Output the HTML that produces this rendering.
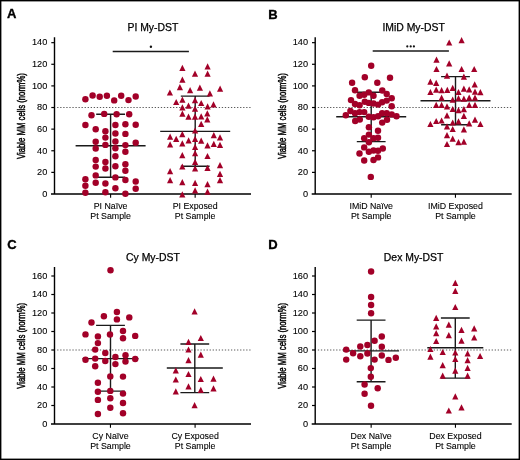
<!DOCTYPE html><html><head><meta charset="utf-8"><style>html,body{margin:0;padding:0;background:#fff;}svg{display:block;will-change:transform;} text{font-family:"Liberation Sans",sans-serif;}</style></head><body>
<svg width="520" height="460" viewBox="0 0 520 460">
<rect x="0" y="0" width="520" height="460" fill="#fff"/>
<text x="7.0" y="18.2" font-size="13" font-weight="bold" fill="#000" stroke="#000" stroke-width="0.35">A</text>
<text x="152.9" y="31.2" font-size="10.4" text-anchor="middle" fill="#000" stroke="#000" stroke-width="0.25">PI My-DST</text>
<line x1="57.15" x2="250.60" y1="107.52" y2="107.52" stroke="#5a5a5a" stroke-width="1.1" stroke-dasharray="1.3 1.749"/>
<path d="M54.50 37.30V194.00M51.00 194.00H251.00" stroke="#000" stroke-width="1.4" fill="none"/>
<text x="47.3" y="196.80" font-size="9.2" text-anchor="end" fill="#000" stroke="#000" stroke-width="0.1">0</text>
<line x1="51.30" x2="54.50" y1="172.38" y2="172.38" stroke="#000" stroke-width="1.2"/>
<text x="47.3" y="175.18" font-size="9.2" text-anchor="end" fill="#000" stroke="#000" stroke-width="0.1">20</text>
<line x1="51.30" x2="54.50" y1="150.76" y2="150.76" stroke="#000" stroke-width="1.2"/>
<text x="47.3" y="153.56" font-size="9.2" text-anchor="end" fill="#000" stroke="#000" stroke-width="0.1">40</text>
<line x1="51.30" x2="54.50" y1="129.14" y2="129.14" stroke="#000" stroke-width="1.2"/>
<text x="47.3" y="131.94" font-size="9.2" text-anchor="end" fill="#000" stroke="#000" stroke-width="0.1">60</text>
<line x1="51.30" x2="54.50" y1="107.52" y2="107.52" stroke="#000" stroke-width="1.2"/>
<text x="47.3" y="110.32" font-size="9.2" text-anchor="end" fill="#000" stroke="#000" stroke-width="0.1">80</text>
<line x1="51.30" x2="54.50" y1="85.90" y2="85.90" stroke="#000" stroke-width="1.2"/>
<text x="47.3" y="88.70" font-size="9.2" text-anchor="end" fill="#000" stroke="#000" stroke-width="0.1">100</text>
<line x1="51.30" x2="54.50" y1="64.28" y2="64.28" stroke="#000" stroke-width="1.2"/>
<text x="47.3" y="67.08" font-size="9.2" text-anchor="end" fill="#000" stroke="#000" stroke-width="0.1">120</text>
<line x1="51.30" x2="54.50" y1="42.66" y2="42.66" stroke="#000" stroke-width="1.2"/>
<text x="47.3" y="45.46" font-size="9.2" text-anchor="end" fill="#000" stroke="#000" stroke-width="0.1">140</text>
<line x1="110.60" x2="110.60" y1="194.00" y2="197.70" stroke="#000" stroke-width="1.1"/>
<line x1="195.15" x2="195.15" y1="194.00" y2="197.70" stroke="#000" stroke-width="1.1"/>
<text x="110.60" y="209.0" font-size="8.8" text-anchor="middle" fill="#000" stroke="#000" stroke-width="0.1">PI Naïve</text>
<text x="110.60" y="218.8" font-size="8.8" text-anchor="middle" fill="#000" stroke="#000" stroke-width="0.1">Pt Sample</text>
<text x="195.15" y="209.0" font-size="8.8" text-anchor="middle" fill="#000" stroke="#000" stroke-width="0.1">PI Exposed</text>
<text x="195.15" y="218.8" font-size="8.8" text-anchor="middle" fill="#000" stroke="#000" stroke-width="0.1">Pt Sample</text>
<text transform="translate(25.20,116.05) rotate(-90) scale(0.775,1)" x="0" y="0" font-size="10" text-anchor="middle" fill="#000" stroke="#000" stroke-width="0.45">Viable MM cells (norm%)</text>
<path d="M110.60 114.30V177.20M96.20 114.30H125.00M96.20 177.20H125.00M75.60 145.80H145.60" stroke="#1a1a1a" stroke-width="1.4" fill="none"/>
<path d="M195.20 96.10V166.20M180.80 96.10H209.60M180.80 166.20H209.60M160.20 131.40H230.20" stroke="#1a1a1a" stroke-width="1.4" fill="none"/>
<circle cx="85.4" cy="99.3" r="3.22" fill="#a20028"/>
<circle cx="92.6" cy="95.5" r="3.22" fill="#a20028"/>
<circle cx="99.7" cy="96.7" r="3.22" fill="#a20028"/>
<circle cx="106.9" cy="95.8" r="3.22" fill="#a20028"/>
<circle cx="114.2" cy="100.4" r="3.22" fill="#a20028"/>
<circle cx="121.2" cy="95.8" r="3.22" fill="#a20028"/>
<circle cx="128.5" cy="100.1" r="3.22" fill="#a20028"/>
<circle cx="135.7" cy="96.5" r="3.22" fill="#a20028"/>
<circle cx="91.5" cy="115.3" r="3.22" fill="#a20028"/>
<circle cx="104.2" cy="113.9" r="3.22" fill="#a20028"/>
<circle cx="116.6" cy="114.2" r="3.22" fill="#a20028"/>
<circle cx="129.2" cy="114.2" r="3.22" fill="#a20028"/>
<circle cx="85.4" cy="125.0" r="3.22" fill="#a20028"/>
<circle cx="115.4" cy="125.0" r="3.22" fill="#a20028"/>
<circle cx="125.4" cy="124.2" r="3.22" fill="#a20028"/>
<circle cx="135.7" cy="124.7" r="3.22" fill="#a20028"/>
<circle cx="95.7" cy="129.3" r="3.22" fill="#a20028"/>
<circle cx="105.4" cy="131.2" r="3.22" fill="#a20028"/>
<circle cx="115.4" cy="133.5" r="3.22" fill="#a20028"/>
<circle cx="125.4" cy="133.9" r="3.22" fill="#a20028"/>
<circle cx="105.4" cy="137.6" r="3.22" fill="#a20028"/>
<circle cx="95.7" cy="141.8" r="3.22" fill="#a20028"/>
<circle cx="115.4" cy="141.5" r="3.22" fill="#a20028"/>
<circle cx="135.7" cy="142.8" r="3.22" fill="#a20028"/>
<circle cx="105.4" cy="144.9" r="3.22" fill="#a20028"/>
<circle cx="125.4" cy="145.1" r="3.22" fill="#a20028"/>
<circle cx="95.7" cy="148.5" r="3.22" fill="#a20028"/>
<circle cx="115.4" cy="148.2" r="3.22" fill="#a20028"/>
<circle cx="125.4" cy="151.8" r="3.22" fill="#a20028"/>
<circle cx="115.4" cy="156.2" r="3.22" fill="#a20028"/>
<circle cx="95.7" cy="160.0" r="3.22" fill="#a20028"/>
<circle cx="105.4" cy="162.0" r="3.22" fill="#a20028"/>
<circle cx="125.4" cy="164.2" r="3.22" fill="#a20028"/>
<circle cx="95.7" cy="166.6" r="3.22" fill="#a20028"/>
<circle cx="105.4" cy="168.5" r="3.22" fill="#a20028"/>
<circle cx="115.4" cy="166.2" r="3.22" fill="#a20028"/>
<circle cx="125.4" cy="170.8" r="3.22" fill="#a20028"/>
<circle cx="95.7" cy="175.4" r="3.22" fill="#a20028"/>
<circle cx="115.4" cy="177.4" r="3.22" fill="#a20028"/>
<circle cx="85.4" cy="179.2" r="3.22" fill="#a20028"/>
<circle cx="125.4" cy="180.0" r="3.22" fill="#a20028"/>
<circle cx="135.7" cy="181.5" r="3.22" fill="#a20028"/>
<circle cx="95.7" cy="182.8" r="3.22" fill="#a20028"/>
<circle cx="105.4" cy="183.5" r="3.22" fill="#a20028"/>
<circle cx="85.4" cy="185.8" r="3.22" fill="#a20028"/>
<circle cx="115.4" cy="188.2" r="3.22" fill="#a20028"/>
<circle cx="135.7" cy="188.8" r="3.22" fill="#a20028"/>
<circle cx="85.4" cy="192.8" r="3.22" fill="#a20028"/>
<circle cx="105.4" cy="192.3" r="3.22" fill="#a20028"/>
<circle cx="125.4" cy="193.8" r="3.22" fill="#a20028"/>
<path d="M182.4 64.8L185.5 71.0H179.3Z" fill="#a20028"/>
<path d="M207.6 63.2L210.7 69.4H204.5Z" fill="#a20028"/>
<path d="M195.0 70.5L198.1 76.7H191.9Z" fill="#a20028"/>
<path d="M207.6 70.5L210.7 76.7H204.5Z" fill="#a20028"/>
<path d="M182.4 76.6L185.5 82.8H179.3Z" fill="#a20028"/>
<path d="M179.9 84.0L183.0 90.2H176.8Z" fill="#a20028"/>
<path d="M190.1 87.1L193.2 93.3H187.0Z" fill="#a20028"/>
<path d="M199.9 84.5L203.0 90.7H196.8Z" fill="#a20028"/>
<path d="M220.1 85.5L223.2 91.7H217.0Z" fill="#a20028"/>
<path d="M169.9 89.4L173.0 95.6H166.8Z" fill="#a20028"/>
<path d="M209.9 90.2L213.0 96.4H206.8Z" fill="#a20028"/>
<path d="M182.4 96.6L185.5 102.8H179.3Z" fill="#a20028"/>
<path d="M176.2 98.9L179.3 105.1H173.1Z" fill="#a20028"/>
<path d="M195.0 97.1L198.1 103.3H191.9Z" fill="#a20028"/>
<path d="M201.2 99.9L204.3 106.1H198.1Z" fill="#a20028"/>
<path d="M188.5 102.5L191.6 108.7H185.4Z" fill="#a20028"/>
<path d="M182.4 104.3L185.5 110.5H179.3Z" fill="#a20028"/>
<path d="M213.5 101.2L216.6 107.4H210.4Z" fill="#a20028"/>
<path d="M207.6 103.2L210.7 109.4H204.5Z" fill="#a20028"/>
<path d="M195.0 105.5L198.1 111.7H191.9Z" fill="#a20028"/>
<path d="M182.4 110.6L185.5 116.8H179.3Z" fill="#a20028"/>
<path d="M207.3 110.2L210.4 116.4H204.2Z" fill="#a20028"/>
<path d="M188.5 113.5L191.6 119.7H185.4Z" fill="#a20028"/>
<path d="M195.0 113.5L198.1 119.7H191.9Z" fill="#a20028"/>
<path d="M201.2 113.2L204.3 119.4H198.1Z" fill="#a20028"/>
<path d="M207.3 116.3L210.4 122.5H204.2Z" fill="#a20028"/>
<path d="M201.2 120.7L204.3 126.9H198.1Z" fill="#a20028"/>
<path d="M195.1 127.4L198.2 133.6H192.0Z" fill="#a20028"/>
<path d="M170.1 133.5L173.2 139.7H167.0Z" fill="#a20028"/>
<path d="M182.3 131.1L185.4 137.3H179.2Z" fill="#a20028"/>
<path d="M176.2 135.7L179.3 141.9H173.1Z" fill="#a20028"/>
<path d="M188.6 137.2L191.7 143.4H185.5Z" fill="#a20028"/>
<path d="M195.1 135.7L198.2 141.9H192.0Z" fill="#a20028"/>
<path d="M201.2 137.6L204.3 143.8H198.1Z" fill="#a20028"/>
<path d="M213.8 132.0L216.9 138.2H210.7Z" fill="#a20028"/>
<path d="M220.0 134.2L223.1 140.4H216.9Z" fill="#a20028"/>
<path d="M170.1 141.3L173.2 147.5H167.0Z" fill="#a20028"/>
<path d="M182.3 140.3L185.4 146.5H179.2Z" fill="#a20028"/>
<path d="M195.1 143.7L198.2 149.9H192.0Z" fill="#a20028"/>
<path d="M207.5 142.2L210.6 148.4H204.4Z" fill="#a20028"/>
<path d="M213.8 140.7L216.9 146.9H210.7Z" fill="#a20028"/>
<path d="M220.0 141.8L223.1 148.0H216.9Z" fill="#a20028"/>
<path d="M182.3 152.0L185.4 158.2H179.2Z" fill="#a20028"/>
<path d="M195.1 150.1L198.2 156.3H192.0Z" fill="#a20028"/>
<path d="M207.5 152.9L210.6 159.1H204.4Z" fill="#a20028"/>
<path d="M195.1 158.8L198.2 165.0H192.0Z" fill="#a20028"/>
<path d="M182.3 163.4L185.4 169.6H179.2Z" fill="#a20028"/>
<path d="M195.1 165.3L198.2 171.5H192.0Z" fill="#a20028"/>
<path d="M207.5 164.7L210.6 170.9H204.4Z" fill="#a20028"/>
<path d="M220.0 162.0L223.1 168.2H216.9Z" fill="#a20028"/>
<path d="M170.1 168.1L173.2 174.3H167.0Z" fill="#a20028"/>
<path d="M220.0 170.8L223.1 177.0H216.9Z" fill="#a20028"/>
<path d="M170.1 177.0L173.2 183.2H167.0Z" fill="#a20028"/>
<path d="M182.3 179.1L185.4 185.3H179.2Z" fill="#a20028"/>
<path d="M195.1 179.7L198.2 185.9H192.0Z" fill="#a20028"/>
<path d="M207.5 181.0L210.6 187.2H204.4Z" fill="#a20028"/>
<path d="M220.0 177.0L223.1 183.2H216.9Z" fill="#a20028"/>
<path d="M195.1 187.3L198.2 193.5H192.0Z" fill="#a20028"/>
<path d="M207.5 188.5L210.6 194.7H204.4Z" fill="#a20028"/>
<path d="M182.3 191.2L185.4 197.4H179.2Z" fill="#a20028"/>
<text x="268.3" y="19.2" font-size="13" font-weight="bold" fill="#000" stroke="#000" stroke-width="0.35">B</text>
<text x="413.6" y="31.2" font-size="10.4" text-anchor="middle" fill="#000" stroke="#000" stroke-width="0.25">IMiD My-DST</text>
<line x1="317.85" x2="511.30" y1="107.52" y2="107.52" stroke="#5a5a5a" stroke-width="1.1" stroke-dasharray="1.3 1.749"/>
<path d="M315.20 37.30V194.00M311.70 194.00H511.70" stroke="#000" stroke-width="1.4" fill="none"/>
<text x="308.0" y="196.80" font-size="9.2" text-anchor="end" fill="#000" stroke="#000" stroke-width="0.1">0</text>
<line x1="312.00" x2="315.20" y1="172.38" y2="172.38" stroke="#000" stroke-width="1.2"/>
<text x="308.0" y="175.18" font-size="9.2" text-anchor="end" fill="#000" stroke="#000" stroke-width="0.1">20</text>
<line x1="312.00" x2="315.20" y1="150.76" y2="150.76" stroke="#000" stroke-width="1.2"/>
<text x="308.0" y="153.56" font-size="9.2" text-anchor="end" fill="#000" stroke="#000" stroke-width="0.1">40</text>
<line x1="312.00" x2="315.20" y1="129.14" y2="129.14" stroke="#000" stroke-width="1.2"/>
<text x="308.0" y="131.94" font-size="9.2" text-anchor="end" fill="#000" stroke="#000" stroke-width="0.1">60</text>
<line x1="312.00" x2="315.20" y1="107.52" y2="107.52" stroke="#000" stroke-width="1.2"/>
<text x="308.0" y="110.32" font-size="9.2" text-anchor="end" fill="#000" stroke="#000" stroke-width="0.1">80</text>
<line x1="312.00" x2="315.20" y1="85.90" y2="85.90" stroke="#000" stroke-width="1.2"/>
<text x="308.0" y="88.70" font-size="9.2" text-anchor="end" fill="#000" stroke="#000" stroke-width="0.1">100</text>
<line x1="312.00" x2="315.20" y1="64.28" y2="64.28" stroke="#000" stroke-width="1.2"/>
<text x="308.0" y="67.08" font-size="9.2" text-anchor="end" fill="#000" stroke="#000" stroke-width="0.1">120</text>
<line x1="312.00" x2="315.20" y1="42.66" y2="42.66" stroke="#000" stroke-width="1.2"/>
<text x="308.0" y="45.46" font-size="9.2" text-anchor="end" fill="#000" stroke="#000" stroke-width="0.1">140</text>
<line x1="371.20" x2="371.20" y1="194.00" y2="197.70" stroke="#000" stroke-width="1.1"/>
<line x1="455.45" x2="455.45" y1="194.00" y2="197.70" stroke="#000" stroke-width="1.1"/>
<text x="371.20" y="209.0" font-size="8.8" text-anchor="middle" fill="#000" stroke="#000" stroke-width="0.1">IMiD Naïve</text>
<text x="371.20" y="218.8" font-size="8.8" text-anchor="middle" fill="#000" stroke="#000" stroke-width="0.1">Pt Sample</text>
<text x="455.45" y="209.0" font-size="8.8" text-anchor="middle" fill="#000" stroke="#000" stroke-width="0.1">IMiD Exposed</text>
<text x="455.45" y="218.8" font-size="8.8" text-anchor="middle" fill="#000" stroke="#000" stroke-width="0.1">Pt Sample</text>
<text transform="translate(285.90,116.05) rotate(-90) scale(0.775,1)" x="0" y="0" font-size="10" text-anchor="middle" fill="#000" stroke="#000" stroke-width="0.45">Viable MM cells (norm%)</text>
<path d="M371.20 92.30V141.60M356.80 92.30H385.60M356.80 141.60H385.60M336.20 116.70H406.20" stroke="#1a1a1a" stroke-width="1.4" fill="none"/>
<path d="M455.50 76.60V124.80M441.10 76.60H469.90M441.10 124.80H469.90M420.50 100.80H490.50" stroke="#1a1a1a" stroke-width="1.4" fill="none"/>
<circle cx="371.2" cy="65.8" r="3.22" fill="#a20028"/>
<circle cx="364.8" cy="77.3" r="3.22" fill="#a20028"/>
<circle cx="390.0" cy="77.7" r="3.22" fill="#a20028"/>
<circle cx="352.1" cy="82.8" r="3.22" fill="#a20028"/>
<circle cx="377.3" cy="82.8" r="3.22" fill="#a20028"/>
<circle cx="355.0" cy="90.2" r="3.22" fill="#a20028"/>
<circle cx="382.3" cy="90.5" r="3.22" fill="#a20028"/>
<circle cx="368.8" cy="92.4" r="3.22" fill="#a20028"/>
<circle cx="386.7" cy="93.9" r="3.22" fill="#a20028"/>
<circle cx="359.6" cy="95.7" r="3.22" fill="#a20028"/>
<circle cx="364.2" cy="94.7" r="3.22" fill="#a20028"/>
<circle cx="373.5" cy="95.7" r="3.22" fill="#a20028"/>
<circle cx="391.7" cy="98.3" r="3.22" fill="#a20028"/>
<circle cx="351.0" cy="100.1" r="3.22" fill="#a20028"/>
<circle cx="364.8" cy="101.7" r="3.22" fill="#a20028"/>
<circle cx="355.0" cy="104.0" r="3.22" fill="#a20028"/>
<circle cx="359.6" cy="105.2" r="3.22" fill="#a20028"/>
<circle cx="368.8" cy="102.9" r="3.22" fill="#a20028"/>
<circle cx="373.5" cy="103.5" r="3.22" fill="#a20028"/>
<circle cx="378.1" cy="104.6" r="3.22" fill="#a20028"/>
<circle cx="382.1" cy="102.3" r="3.22" fill="#a20028"/>
<circle cx="386.7" cy="100.6" r="3.22" fill="#a20028"/>
<circle cx="391.7" cy="106.3" r="3.22" fill="#a20028"/>
<circle cx="350.4" cy="111.0" r="3.22" fill="#a20028"/>
<circle cx="355.0" cy="113.3" r="3.22" fill="#a20028"/>
<circle cx="359.6" cy="112.1" r="3.22" fill="#a20028"/>
<circle cx="364.2" cy="112.1" r="3.22" fill="#a20028"/>
<circle cx="345.8" cy="115.2" r="3.22" fill="#a20028"/>
<circle cx="368.8" cy="116.7" r="3.22" fill="#a20028"/>
<circle cx="373.5" cy="117.3" r="3.22" fill="#a20028"/>
<circle cx="378.1" cy="116.2" r="3.22" fill="#a20028"/>
<circle cx="382.1" cy="113.3" r="3.22" fill="#a20028"/>
<circle cx="386.7" cy="113.3" r="3.22" fill="#a20028"/>
<circle cx="391.7" cy="114.4" r="3.22" fill="#a20028"/>
<circle cx="396.5" cy="116.2" r="3.22" fill="#a20028"/>
<circle cx="355.2" cy="121.0" r="3.22" fill="#a20028"/>
<circle cx="359.8" cy="119.5" r="3.22" fill="#a20028"/>
<circle cx="382.2" cy="122.6" r="3.22" fill="#a20028"/>
<circle cx="387.0" cy="119.8" r="3.22" fill="#a20028"/>
<circle cx="368.9" cy="127.2" r="3.22" fill="#a20028"/>
<circle cx="378.0" cy="130.8" r="3.22" fill="#a20028"/>
<circle cx="368.9" cy="134.6" r="3.22" fill="#a20028"/>
<circle cx="364.2" cy="138.2" r="3.22" fill="#a20028"/>
<circle cx="373.5" cy="138.2" r="3.22" fill="#a20028"/>
<circle cx="378.0" cy="137.7" r="3.22" fill="#a20028"/>
<circle cx="368.9" cy="142.3" r="3.22" fill="#a20028"/>
<circle cx="364.2" cy="147.4" r="3.22" fill="#a20028"/>
<circle cx="368.9" cy="151.8" r="3.22" fill="#a20028"/>
<circle cx="373.5" cy="150.5" r="3.22" fill="#a20028"/>
<circle cx="378.0" cy="150.8" r="3.22" fill="#a20028"/>
<circle cx="382.8" cy="148.5" r="3.22" fill="#a20028"/>
<circle cx="359.5" cy="153.5" r="3.22" fill="#a20028"/>
<circle cx="378.0" cy="157.4" r="3.22" fill="#a20028"/>
<circle cx="373.5" cy="160.0" r="3.22" fill="#a20028"/>
<circle cx="364.2" cy="160.5" r="3.22" fill="#a20028"/>
<circle cx="370.8" cy="176.9" r="3.22" fill="#a20028"/>
<path d="M449.2 39.4L452.3 45.6H446.1Z" fill="#a20028"/>
<path d="M461.6 37.1L464.7 43.3H458.5Z" fill="#a20028"/>
<path d="M436.5 56.6L439.6 62.8H433.4Z" fill="#a20028"/>
<path d="M449.2 60.2L452.3 66.4H446.1Z" fill="#a20028"/>
<path d="M436.5 65.9L439.6 72.1H433.4Z" fill="#a20028"/>
<path d="M461.6 65.9L464.7 72.1H458.5Z" fill="#a20028"/>
<path d="M474.2 65.9L477.3 72.1H471.1Z" fill="#a20028"/>
<path d="M447.0 72.5L450.1 78.7H443.9Z" fill="#a20028"/>
<path d="M463.9 73.5L467.0 79.7H460.8Z" fill="#a20028"/>
<path d="M430.4 78.6L433.5 84.8H427.3Z" fill="#a20028"/>
<path d="M436.2 79.7L439.3 85.9H433.1Z" fill="#a20028"/>
<path d="M474.7 81.2L477.8 87.4H471.6Z" fill="#a20028"/>
<path d="M452.7 84.8L455.8 91.0H449.6Z" fill="#a20028"/>
<path d="M430.4 88.9L433.5 95.1H427.3Z" fill="#a20028"/>
<path d="M436.2 86.6L439.3 92.8H433.1Z" fill="#a20028"/>
<path d="M441.6 87.1L444.7 93.3H438.5Z" fill="#a20028"/>
<path d="M447.3 86.8L450.4 93.0H444.2Z" fill="#a20028"/>
<path d="M458.5 88.9L461.6 95.1H455.4Z" fill="#a20028"/>
<path d="M463.9 85.5L467.0 91.7H460.8Z" fill="#a20028"/>
<path d="M469.2 86.3L472.3 92.5H466.1Z" fill="#a20028"/>
<path d="M475.0 88.6L478.1 94.8H471.9Z" fill="#a20028"/>
<path d="M480.4 89.1L483.5 95.3H477.3Z" fill="#a20028"/>
<path d="M441.6 94.5L444.7 100.7H438.5Z" fill="#a20028"/>
<path d="M452.7 96.6L455.8 102.8H449.6Z" fill="#a20028"/>
<path d="M458.5 95.1L461.6 101.3H455.4Z" fill="#a20028"/>
<path d="M463.9 95.5L467.0 101.7H460.8Z" fill="#a20028"/>
<path d="M469.2 94.5L472.3 100.7H466.1Z" fill="#a20028"/>
<path d="M475.0 94.5L478.1 100.7H471.9Z" fill="#a20028"/>
<path d="M436.2 101.7L439.3 107.9H433.1Z" fill="#a20028"/>
<path d="M441.6 101.7L444.7 107.9H438.5Z" fill="#a20028"/>
<path d="M469.2 101.7L472.3 107.9H466.1Z" fill="#a20028"/>
<path d="M475.0 101.7L478.1 107.9H471.9Z" fill="#a20028"/>
<path d="M447.0 103.2L450.1 109.4H443.9Z" fill="#a20028"/>
<path d="M452.7 105.9L455.8 112.1H449.6Z" fill="#a20028"/>
<path d="M458.5 107.1L461.6 113.3H455.4Z" fill="#a20028"/>
<path d="M463.9 106.0L467.0 112.2H460.8Z" fill="#a20028"/>
<path d="M447.0 112.2L450.1 118.4H443.9Z" fill="#a20028"/>
<path d="M463.9 112.8L467.0 119.0H460.8Z" fill="#a20028"/>
<path d="M430.4 120.9L433.5 127.1H427.3Z" fill="#a20028"/>
<path d="M436.2 117.9L439.3 124.1H433.1Z" fill="#a20028"/>
<path d="M441.6 117.4L444.7 123.6H438.5Z" fill="#a20028"/>
<path d="M452.7 119.4L455.8 125.6H449.6Z" fill="#a20028"/>
<path d="M458.5 118.2L461.6 124.4H455.4Z" fill="#a20028"/>
<path d="M469.2 120.2L472.3 126.4H466.1Z" fill="#a20028"/>
<path d="M475.0 116.6L478.1 122.8H471.9Z" fill="#a20028"/>
<path d="M480.4 120.9L483.5 127.1H477.3Z" fill="#a20028"/>
<path d="M447.0 123.2L450.1 129.4H443.9Z" fill="#a20028"/>
<path d="M452.7 125.9L455.8 132.1H449.6Z" fill="#a20028"/>
<path d="M463.9 126.3L467.0 132.5H460.8Z" fill="#a20028"/>
<path d="M447.0 132.0L450.1 138.2H443.9Z" fill="#a20028"/>
<path d="M452.7 135.5L455.8 141.7H449.6Z" fill="#a20028"/>
<path d="M458.5 139.1L461.6 145.3H455.4Z" fill="#a20028"/>
<path d="M463.9 138.6L467.0 144.8H460.8Z" fill="#a20028"/>
<path d="M447.0 140.9L450.1 147.1H443.9Z" fill="#a20028"/>
<text x="7.2" y="249.0" font-size="13" font-weight="bold" fill="#000" stroke="#000" stroke-width="0.35">C</text>
<text x="152.9" y="261.0" font-size="10.4" text-anchor="middle" fill="#000" stroke="#000" stroke-width="0.25">Cy My-DST</text>
<line x1="57.15" x2="250.60" y1="350.00" y2="350.00" stroke="#5a5a5a" stroke-width="1.1" stroke-dasharray="1.3 1.749"/>
<path d="M54.50 267.00V424.00M51.00 424.00H251.00" stroke="#000" stroke-width="1.4" fill="none"/>
<text x="47.3" y="426.80" font-size="9.2" text-anchor="end" fill="#000" stroke="#000" stroke-width="0.1">0</text>
<line x1="51.30" x2="54.50" y1="405.50" y2="405.50" stroke="#000" stroke-width="1.2"/>
<text x="47.3" y="408.30" font-size="9.2" text-anchor="end" fill="#000" stroke="#000" stroke-width="0.1">20</text>
<line x1="51.30" x2="54.50" y1="387.00" y2="387.00" stroke="#000" stroke-width="1.2"/>
<text x="47.3" y="389.80" font-size="9.2" text-anchor="end" fill="#000" stroke="#000" stroke-width="0.1">40</text>
<line x1="51.30" x2="54.50" y1="368.50" y2="368.50" stroke="#000" stroke-width="1.2"/>
<text x="47.3" y="371.30" font-size="9.2" text-anchor="end" fill="#000" stroke="#000" stroke-width="0.1">60</text>
<line x1="51.30" x2="54.50" y1="350.00" y2="350.00" stroke="#000" stroke-width="1.2"/>
<text x="47.3" y="352.80" font-size="9.2" text-anchor="end" fill="#000" stroke="#000" stroke-width="0.1">80</text>
<line x1="51.30" x2="54.50" y1="331.50" y2="331.50" stroke="#000" stroke-width="1.2"/>
<text x="47.3" y="334.30" font-size="9.2" text-anchor="end" fill="#000" stroke="#000" stroke-width="0.1">100</text>
<line x1="51.30" x2="54.50" y1="313.00" y2="313.00" stroke="#000" stroke-width="1.2"/>
<text x="47.3" y="315.80" font-size="9.2" text-anchor="end" fill="#000" stroke="#000" stroke-width="0.1">120</text>
<line x1="51.30" x2="54.50" y1="294.50" y2="294.50" stroke="#000" stroke-width="1.2"/>
<text x="47.3" y="297.30" font-size="9.2" text-anchor="end" fill="#000" stroke="#000" stroke-width="0.1">140</text>
<line x1="51.30" x2="54.50" y1="276.00" y2="276.00" stroke="#000" stroke-width="1.2"/>
<text x="47.3" y="278.80" font-size="9.2" text-anchor="end" fill="#000" stroke="#000" stroke-width="0.1">160</text>
<line x1="110.45" x2="110.45" y1="424.00" y2="427.70" stroke="#000" stroke-width="1.1"/>
<line x1="195.10" x2="195.10" y1="424.00" y2="427.70" stroke="#000" stroke-width="1.1"/>
<text x="110.45" y="438.8" font-size="8.8" text-anchor="middle" fill="#000" stroke="#000" stroke-width="0.1">Cy Naïve</text>
<text x="110.45" y="448.6" font-size="8.8" text-anchor="middle" fill="#000" stroke="#000" stroke-width="0.1">Pt Sample</text>
<text x="195.10" y="438.8" font-size="8.8" text-anchor="middle" fill="#000" stroke="#000" stroke-width="0.1">Cy Exposed</text>
<text x="195.10" y="448.6" font-size="8.8" text-anchor="middle" fill="#000" stroke="#000" stroke-width="0.1">Pt Sample</text>
<text transform="translate(25.20,345.85) rotate(-90) scale(0.775,1)" x="0" y="0" font-size="10" text-anchor="middle" fill="#000" stroke="#000" stroke-width="0.45">Viable MM cells (norm%)</text>
<path d="M110.50 325.40V391.10M96.10 325.40H124.90M96.10 391.10H124.90M82.50 358.60H138.50" stroke="#1a1a1a" stroke-width="1.4" fill="none"/>
<path d="M194.80 344.00V392.60M180.40 344.00H209.20M180.40 392.60H209.20M166.80 368.00H222.80" stroke="#1a1a1a" stroke-width="1.4" fill="none"/>
<circle cx="110.5" cy="270.2" r="3.22" fill="#a20028"/>
<circle cx="116.9" cy="312.0" r="3.22" fill="#a20028"/>
<circle cx="103.9" cy="316.3" r="3.22" fill="#a20028"/>
<circle cx="116.9" cy="319.4" r="3.22" fill="#a20028"/>
<circle cx="129.3" cy="317.4" r="3.22" fill="#a20028"/>
<circle cx="91.5" cy="322.5" r="3.22" fill="#a20028"/>
<circle cx="85.5" cy="334.4" r="3.22" fill="#a20028"/>
<circle cx="97.9" cy="336.4" r="3.22" fill="#a20028"/>
<circle cx="110.0" cy="334.5" r="3.22" fill="#a20028"/>
<circle cx="123.0" cy="331.0" r="3.22" fill="#a20028"/>
<circle cx="123.0" cy="338.2" r="3.22" fill="#a20028"/>
<circle cx="135.2" cy="335.9" r="3.22" fill="#a20028"/>
<circle cx="97.9" cy="343.1" r="3.22" fill="#a20028"/>
<circle cx="95.2" cy="349.6" r="3.22" fill="#a20028"/>
<circle cx="105.3" cy="353.0" r="3.22" fill="#a20028"/>
<circle cx="125.5" cy="355.3" r="3.22" fill="#a20028"/>
<circle cx="85.5" cy="359.7" r="3.22" fill="#a20028"/>
<circle cx="95.2" cy="358.6" r="3.22" fill="#a20028"/>
<circle cx="105.3" cy="361.0" r="3.22" fill="#a20028"/>
<circle cx="115.4" cy="357.0" r="3.22" fill="#a20028"/>
<circle cx="125.5" cy="361.5" r="3.22" fill="#a20028"/>
<circle cx="135.2" cy="359.0" r="3.22" fill="#a20028"/>
<circle cx="95.2" cy="366.2" r="3.22" fill="#a20028"/>
<circle cx="115.4" cy="364.1" r="3.22" fill="#a20028"/>
<circle cx="110.3" cy="376.4" r="3.22" fill="#a20028"/>
<circle cx="123.0" cy="376.6" r="3.22" fill="#a20028"/>
<circle cx="97.9" cy="382.8" r="3.22" fill="#a20028"/>
<circle cx="97.9" cy="391.8" r="3.22" fill="#a20028"/>
<circle cx="110.3" cy="390.9" r="3.22" fill="#a20028"/>
<circle cx="123.0" cy="393.6" r="3.22" fill="#a20028"/>
<circle cx="97.9" cy="399.9" r="3.22" fill="#a20028"/>
<circle cx="110.3" cy="398.3" r="3.22" fill="#a20028"/>
<circle cx="123.0" cy="403.0" r="3.22" fill="#a20028"/>
<circle cx="110.3" cy="407.7" r="3.22" fill="#a20028"/>
<circle cx="97.9" cy="414.0" r="3.22" fill="#a20028"/>
<circle cx="123.0" cy="413.3" r="3.22" fill="#a20028"/>
<path d="M194.6 308.2L197.7 314.4H191.5Z" fill="#a20028"/>
<path d="M200.8 334.9L203.9 341.1H197.7Z" fill="#a20028"/>
<path d="M188.5 338.7L191.6 344.9H185.4Z" fill="#a20028"/>
<path d="M188.5 346.4L191.6 352.6H185.4Z" fill="#a20028"/>
<path d="M200.8 351.6L203.9 357.8H197.7Z" fill="#a20028"/>
<path d="M188.5 357.1L191.6 363.3H185.4Z" fill="#a20028"/>
<path d="M175.8 367.2L178.9 373.4H172.7Z" fill="#a20028"/>
<path d="M188.5 370.9L191.6 377.1H185.4Z" fill="#a20028"/>
<path d="M175.8 376.4L178.9 382.6H172.7Z" fill="#a20028"/>
<path d="M200.8 375.9L203.9 382.1H197.7Z" fill="#a20028"/>
<path d="M213.5 375.5L216.6 381.7H210.4Z" fill="#a20028"/>
<path d="M188.5 383.2L191.6 389.4H185.4Z" fill="#a20028"/>
<path d="M175.8 388.2L178.9 394.4H172.7Z" fill="#a20028"/>
<path d="M200.8 386.7L203.9 392.9H197.7Z" fill="#a20028"/>
<path d="M213.5 385.2L216.6 391.4H210.4Z" fill="#a20028"/>
<path d="M194.6 402.1L197.7 408.3H191.5Z" fill="#a20028"/>
<text x="268.3" y="248.9" font-size="13" font-weight="bold" fill="#000" stroke="#000" stroke-width="0.35">D</text>
<text x="413.6" y="261.0" font-size="10.4" text-anchor="middle" fill="#000" stroke="#000" stroke-width="0.25">Dex My-DST</text>
<line x1="317.85" x2="511.30" y1="350.00" y2="350.00" stroke="#5a5a5a" stroke-width="1.1" stroke-dasharray="1.3 1.749"/>
<path d="M315.20 267.00V424.00M311.70 424.00H511.70" stroke="#000" stroke-width="1.4" fill="none"/>
<text x="308.0" y="426.80" font-size="9.2" text-anchor="end" fill="#000" stroke="#000" stroke-width="0.1">0</text>
<line x1="312.00" x2="315.20" y1="405.50" y2="405.50" stroke="#000" stroke-width="1.2"/>
<text x="308.0" y="408.30" font-size="9.2" text-anchor="end" fill="#000" stroke="#000" stroke-width="0.1">20</text>
<line x1="312.00" x2="315.20" y1="387.00" y2="387.00" stroke="#000" stroke-width="1.2"/>
<text x="308.0" y="389.80" font-size="9.2" text-anchor="end" fill="#000" stroke="#000" stroke-width="0.1">40</text>
<line x1="312.00" x2="315.20" y1="368.50" y2="368.50" stroke="#000" stroke-width="1.2"/>
<text x="308.0" y="371.30" font-size="9.2" text-anchor="end" fill="#000" stroke="#000" stroke-width="0.1">60</text>
<line x1="312.00" x2="315.20" y1="350.00" y2="350.00" stroke="#000" stroke-width="1.2"/>
<text x="308.0" y="352.80" font-size="9.2" text-anchor="end" fill="#000" stroke="#000" stroke-width="0.1">80</text>
<line x1="312.00" x2="315.20" y1="331.50" y2="331.50" stroke="#000" stroke-width="1.2"/>
<text x="308.0" y="334.30" font-size="9.2" text-anchor="end" fill="#000" stroke="#000" stroke-width="0.1">100</text>
<line x1="312.00" x2="315.20" y1="313.00" y2="313.00" stroke="#000" stroke-width="1.2"/>
<text x="308.0" y="315.80" font-size="9.2" text-anchor="end" fill="#000" stroke="#000" stroke-width="0.1">120</text>
<line x1="312.00" x2="315.20" y1="294.50" y2="294.50" stroke="#000" stroke-width="1.2"/>
<text x="308.0" y="297.30" font-size="9.2" text-anchor="end" fill="#000" stroke="#000" stroke-width="0.1">140</text>
<line x1="312.00" x2="315.20" y1="276.00" y2="276.00" stroke="#000" stroke-width="1.2"/>
<text x="308.0" y="278.80" font-size="9.2" text-anchor="end" fill="#000" stroke="#000" stroke-width="0.1">160</text>
<line x1="371.15" x2="371.15" y1="424.00" y2="427.70" stroke="#000" stroke-width="1.1"/>
<line x1="455.45" x2="455.45" y1="424.00" y2="427.70" stroke="#000" stroke-width="1.1"/>
<text x="371.15" y="438.8" font-size="8.8" text-anchor="middle" fill="#000" stroke="#000" stroke-width="0.1">Dex Naïve</text>
<text x="371.15" y="448.6" font-size="8.8" text-anchor="middle" fill="#000" stroke="#000" stroke-width="0.1">Pt Sample</text>
<text x="455.45" y="438.8" font-size="8.8" text-anchor="middle" fill="#000" stroke="#000" stroke-width="0.1">Dex Exposed</text>
<text x="455.45" y="448.6" font-size="8.8" text-anchor="middle" fill="#000" stroke="#000" stroke-width="0.1">Pt Sample</text>
<text transform="translate(285.90,345.85) rotate(-90) scale(0.775,1)" x="0" y="0" font-size="10" text-anchor="middle" fill="#000" stroke="#000" stroke-width="0.45">Viable MM cells (norm%)</text>
<path d="M371.10 320.10V381.80M356.70 320.10H385.50M356.70 381.80H385.50M343.10 350.90H399.10" stroke="#1a1a1a" stroke-width="1.4" fill="none"/>
<path d="M455.30 318.00V378.10M440.90 318.00H469.70M440.90 378.10H469.70M427.30 347.80H483.30" stroke="#1a1a1a" stroke-width="1.4" fill="none"/>
<circle cx="371.1" cy="271.5" r="3.22" fill="#a20028"/>
<circle cx="371.1" cy="297.0" r="3.22" fill="#a20028"/>
<circle cx="371.1" cy="305.0" r="3.22" fill="#a20028"/>
<circle cx="371.1" cy="313.2" r="3.22" fill="#a20028"/>
<circle cx="381.8" cy="336.5" r="3.22" fill="#a20028"/>
<circle cx="374.6" cy="340.7" r="3.22" fill="#a20028"/>
<circle cx="360.3" cy="346.5" r="3.22" fill="#a20028"/>
<circle cx="367.4" cy="345.0" r="3.22" fill="#a20028"/>
<circle cx="381.8" cy="346.8" r="3.22" fill="#a20028"/>
<circle cx="346.2" cy="349.6" r="3.22" fill="#a20028"/>
<circle cx="353.1" cy="353.2" r="3.22" fill="#a20028"/>
<circle cx="367.4" cy="353.5" r="3.22" fill="#a20028"/>
<circle cx="360.3" cy="356.2" r="3.22" fill="#a20028"/>
<circle cx="381.8" cy="355.5" r="3.22" fill="#a20028"/>
<circle cx="346.2" cy="359.6" r="3.22" fill="#a20028"/>
<circle cx="374.6" cy="359.6" r="3.22" fill="#a20028"/>
<circle cx="388.5" cy="359.9" r="3.22" fill="#a20028"/>
<circle cx="395.8" cy="357.8" r="3.22" fill="#a20028"/>
<circle cx="370.8" cy="368.1" r="3.22" fill="#a20028"/>
<circle cx="370.8" cy="376.8" r="3.22" fill="#a20028"/>
<circle cx="364.6" cy="384.5" r="3.22" fill="#a20028"/>
<circle cx="377.7" cy="388.3" r="3.22" fill="#a20028"/>
<circle cx="364.6" cy="393.7" r="3.22" fill="#a20028"/>
<circle cx="371.0" cy="405.8" r="3.22" fill="#a20028"/>
<path d="M455.3 279.8L458.4 286.0H452.2Z" fill="#a20028"/>
<path d="M455.3 287.8L458.4 294.0H452.2Z" fill="#a20028"/>
<path d="M455.3 303.9L458.4 310.1H452.2Z" fill="#a20028"/>
<path d="M436.2 314.7L439.3 320.9H433.1Z" fill="#a20028"/>
<path d="M448.8 321.5L451.9 327.7H445.7Z" fill="#a20028"/>
<path d="M436.2 323.2L439.3 329.4H433.1Z" fill="#a20028"/>
<path d="M474.2 325.2L477.3 331.4H471.1Z" fill="#a20028"/>
<path d="M461.5 326.7L464.6 332.9H458.4Z" fill="#a20028"/>
<path d="M436.2 330.1L439.3 336.3H433.1Z" fill="#a20028"/>
<path d="M448.8 332.1L451.9 338.3H445.7Z" fill="#a20028"/>
<path d="M474.2 334.4L477.3 340.6H471.1Z" fill="#a20028"/>
<path d="M436.2 337.9L439.3 344.1H433.1Z" fill="#a20028"/>
<path d="M461.5 337.5L464.6 343.7H458.4Z" fill="#a20028"/>
<path d="M430.4 345.9L433.5 352.1H427.3Z" fill="#a20028"/>
<path d="M442.7 348.9L445.8 355.1H439.6Z" fill="#a20028"/>
<path d="M455.3 349.4L458.4 355.6H452.2Z" fill="#a20028"/>
<path d="M467.6 350.2L470.7 356.4H464.5Z" fill="#a20028"/>
<path d="M430.4 353.5L433.5 359.7H427.3Z" fill="#a20028"/>
<path d="M480.1 352.9L483.2 359.1H477.0Z" fill="#a20028"/>
<path d="M455.3 355.9L458.4 362.1H452.2Z" fill="#a20028"/>
<path d="M467.6 357.1L470.7 363.3H464.5Z" fill="#a20028"/>
<path d="M442.7 362.0L445.8 368.2H439.6Z" fill="#a20028"/>
<path d="M467.6 364.8L470.7 371.0H464.5Z" fill="#a20028"/>
<path d="M455.3 367.5L458.4 373.7H452.2Z" fill="#a20028"/>
<path d="M442.7 372.5L445.8 378.7H439.6Z" fill="#a20028"/>
<path d="M467.6 372.5L470.7 378.7H464.5Z" fill="#a20028"/>
<path d="M455.3 393.2L458.4 399.4H452.2Z" fill="#a20028"/>
<path d="M461.5 404.3L464.6 410.5H458.4Z" fill="#a20028"/>
<path d="M448.8 407.4L451.9 413.6H445.7Z" fill="#a20028"/>
<line x1="112.7" x2="188.9" y1="51.5" y2="51.5" stroke="#1a1a1a" stroke-width="1.3"/>
<circle cx="150.9" cy="46.8" r="1.2" fill="#111"/>
<line x1="372.7" x2="448.9" y1="51.0" y2="51.0" stroke="#1a1a1a" stroke-width="1.3"/>
<circle cx="407.3" cy="46.4" r="1.1" fill="#111"/>
<circle cx="410.7" cy="46.4" r="1.1" fill="#111"/>
<circle cx="413.9" cy="46.4" r="1.1" fill="#111"/>
<rect x="0.7" y="0.7" width="518.6" height="458.6" fill="none" stroke="#000" stroke-width="1.4"/>
</svg></body></html>
